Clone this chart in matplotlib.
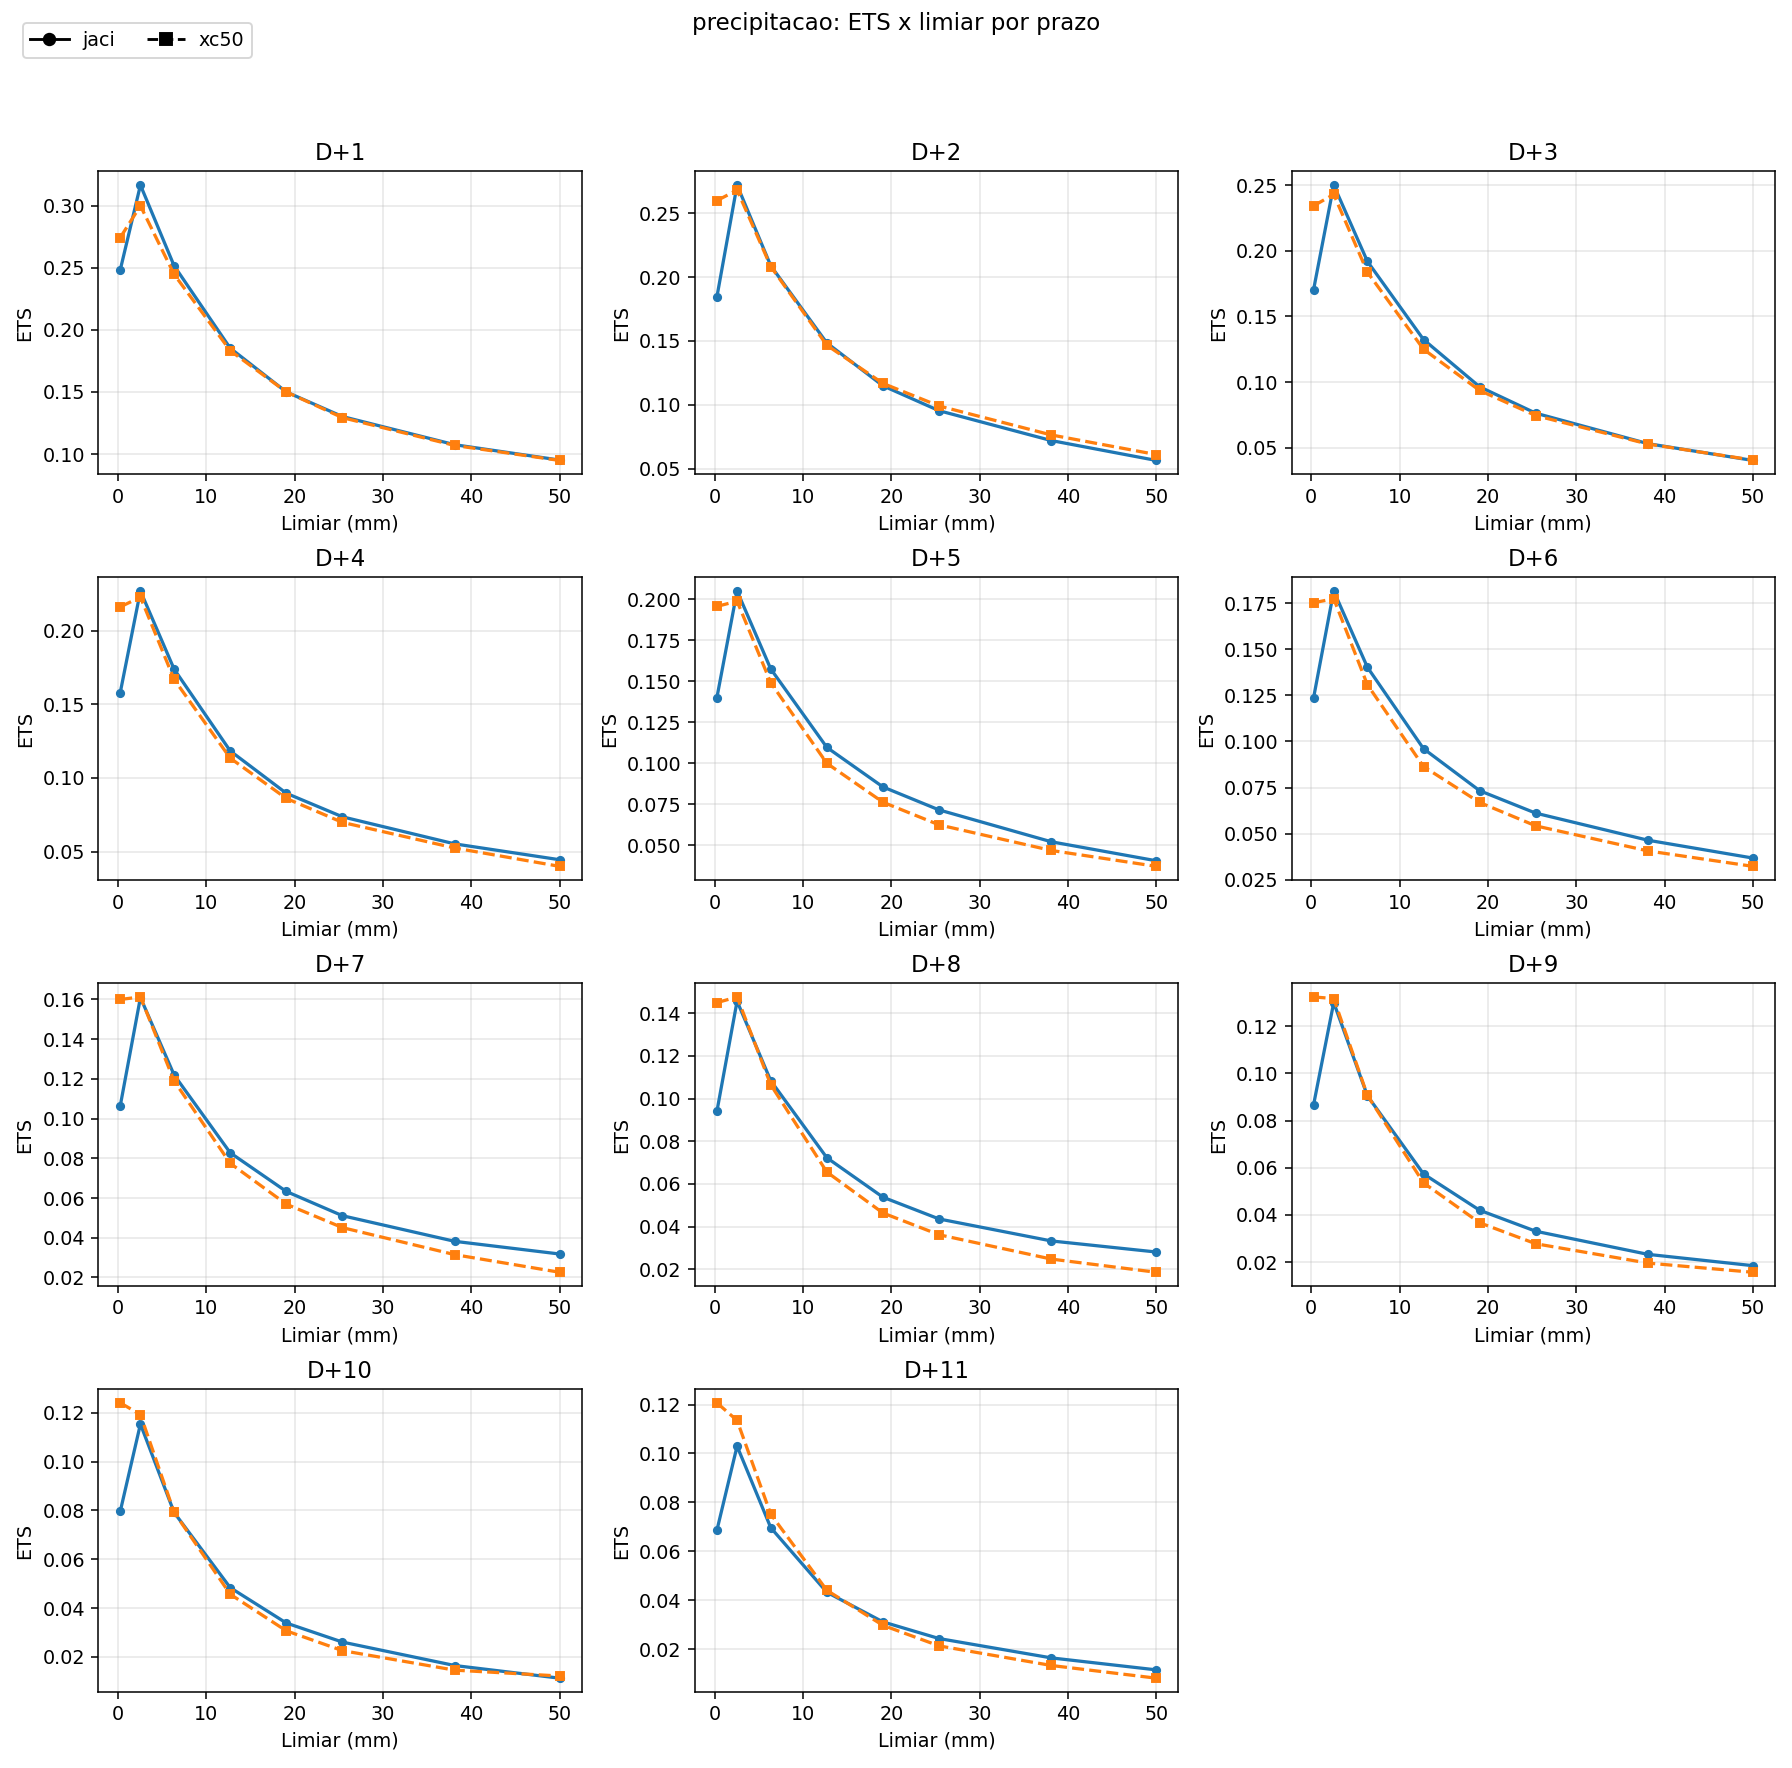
import matplotlib
matplotlib.use("Agg")
import matplotlib.pyplot as plt
from matplotlib.lines import Line2D
from matplotlib.ticker import MaxNLocator

# limiares (mm)
limiares = [0.254, 2.54, 6.35, 12.7, 19.05, 25.4, 38.1, 50.0]
prazos = ["D+1", "D+2", "D+3", "D+4", "D+5", "D+6", "D+7", "D+8", "D+9", "D+10", "D+11"]

# ETS por prazo - jaci
ets_jaci = [
    [0.2483, 0.3167, 0.2517, 0.1853, 0.1500, 0.1302, 0.1075, 0.0951],
    [0.1844, 0.2721, 0.2089, 0.1484, 0.1148, 0.0953, 0.0719, 0.0563],
    [0.1702, 0.2500, 0.1919, 0.1324, 0.0964, 0.0763, 0.0531, 0.0403],
    [0.1580, 0.2271, 0.1740, 0.1184, 0.0896, 0.0736, 0.0552, 0.0444],
    [0.1400, 0.2050, 0.1575, 0.1097, 0.0856, 0.0716, 0.0522, 0.0406],
    [0.1236, 0.1817, 0.1403, 0.0961, 0.0733, 0.0611, 0.0464, 0.0367],
    [0.1064, 0.1610, 0.1220, 0.0828, 0.0633, 0.0511, 0.0382, 0.0318],
    [0.0940, 0.1457, 0.1084, 0.0723, 0.0538, 0.0436, 0.0333, 0.0281],
    [0.0866, 0.1300, 0.0905, 0.0574, 0.0420, 0.0331, 0.0233, 0.0185],
    [0.0796, 0.1154, 0.0792, 0.0484, 0.0339, 0.0261, 0.0165, 0.0113],
    [0.0686, 0.1030, 0.0697, 0.0433, 0.0312, 0.0244, 0.0165, 0.0116],
]

# ETS por prazo - xc50
ets_xc50 = [
    [0.2744, 0.3000, 0.2448, 0.1833, 0.1500, 0.1293, 0.1069, 0.0948],
    [0.2599, 0.2682, 0.2083, 0.1466, 0.1167, 0.0990, 0.0763, 0.0609],
    [0.2342, 0.2429, 0.1837, 0.1250, 0.0936, 0.0745, 0.0528, 0.0406],
    [0.2163, 0.2229, 0.1670, 0.1135, 0.0861, 0.0698, 0.0524, 0.0399],
    [0.1956, 0.1988, 0.1491, 0.1000, 0.0763, 0.0625, 0.0469, 0.0372],
    [0.1753, 0.1775, 0.1308, 0.0864, 0.0669, 0.0542, 0.0406, 0.0322],
    [0.1600, 0.1613, 0.1190, 0.0775, 0.0569, 0.0451, 0.0315, 0.0226],
    [0.1450, 0.1477, 0.1065, 0.0656, 0.0464, 0.0362, 0.0248, 0.0186],
    [0.1324, 0.1317, 0.0907, 0.0536, 0.0367, 0.0278, 0.0196, 0.0157],
    [0.1241, 0.1193, 0.0793, 0.0457, 0.0307, 0.0226, 0.0146, 0.0122],
    [0.1207, 0.1135, 0.0752, 0.0441, 0.0298, 0.0214, 0.0134, 0.0082],
]

DPI = 137.5
fig = plt.figure(figsize=(1793 / DPI, 1768 / DPI), dpi=DPI)
axes = fig.subplots(4, 3)
fig.subplots_adjust(left=0.0548, right=0.990, top=0.9031, bottom=0.0430,
                    wspace=0.234, hspace=0.340)

for i, ax in enumerate(axes.flat):
    if i >= len(prazos):
        ax.remove()
        continue
    ax.plot(limiares, ets_jaci[i], '-o', color='C0', markersize=3.8, linewidth=1.7)
    ax.plot(limiares, ets_xc50[i], '--s', color='C1', markersize=4.4, linewidth=1.7)
    ax.yaxis.set_major_locator(MaxNLocator(nbins=8, steps=[1, 2, 2.5, 5, 10]))
    ax.set_title(prazos[i])
    ax.set_xlabel("Limiar (mm)")
    ax.set_ylabel("ETS")
    ax.grid(True, alpha=0.3)

handles = [Line2D([], [], color='black', linestyle='-', marker='o'),
           Line2D([], [], color='black', linestyle='--', marker='s')]
fig.legend(handles, ["jaci", "xc50"], loc='upper left', ncol=2,
           bbox_to_anchor=(0.01266, 0.98682), borderaxespad=0,
           handletextpad=0.7, columnspacing=1.7)
fig.suptitle("precipitacao: ETS x limiar por prazo", y=0.9932, fontsize=12)

fig.savefig("out.png", dpi=DPI)
